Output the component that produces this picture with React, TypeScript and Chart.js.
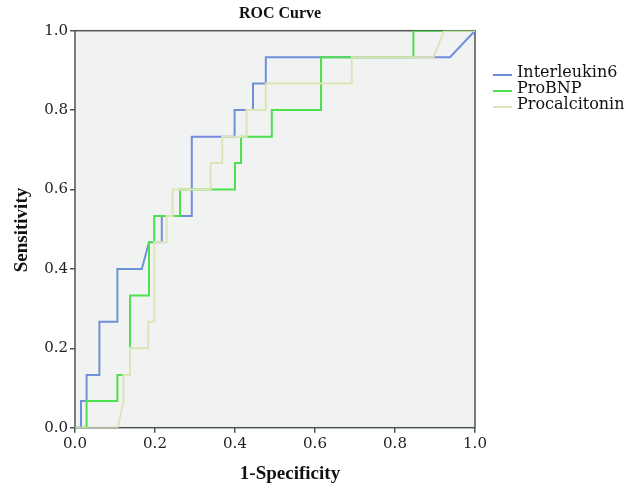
import React, { useEffect, useRef } from "react";
import { Chart, registerables } from "chart.js";

Chart.register(...registerables);

// Interleukin6
const il6X = [0, 0.015, 0.015, 0.029, 0.029, 0.061, 0.061, 0.106, 0.106, 0.167, 0.185, 0.217, 0.217, 0.292, 0.292, 0.399, 0.399, 0.445, 0.445, 0.477, 0.477, 0.9375, 1];
const il6Y = [0, 0, 0.067, 0.067, 0.133, 0.133, 0.267, 0.267, 0.4, 0.4, 0.467, 0.467, 0.533, 0.533, 0.733, 0.733, 0.8, 0.8, 0.867, 0.867, 0.933, 0.933, 1];

// ProBNP
const bnpX = [0, 0.029, 0.029, 0.106, 0.106, 0.1375, 0.1375, 0.185, 0.185, 0.198, 0.198, 0.2625, 0.2625, 0.4, 0.4, 0.415, 0.415, 0.492, 0.492, 0.615, 0.615, 0.846, 0.846, 1];
const bnpY = [0, 0, 0.067, 0.067, 0.133, 0.133, 0.333, 0.333, 0.467, 0.467, 0.533, 0.533, 0.6, 0.6, 0.667, 0.667, 0.733, 0.733, 0.8, 0.8, 0.933, 0.933, 1, 1];

// Procalcitonin
const pctX = [0, 0.107, 0.121, 0.121, 0.1375, 0.1375, 0.183, 0.183, 0.198, 0.198, 0.229, 0.229, 0.244, 0.244, 0.339, 0.339, 0.368, 0.368, 0.429, 0.429, 0.477, 0.477, 0.692, 0.692, 0.896, 0.923, 1];
const pctY = [0, 0, 0.067, 0.133, 0.133, 0.2, 0.2, 0.267, 0.267, 0.467, 0.467, 0.533, 0.533, 0.6, 0.6, 0.667, 0.667, 0.733, 0.733, 0.8, 0.8, 0.867, 0.867, 0.933, 0.933, 1, 1];

const seriesNames = ["Interleukin6", "ProBNP", "Procalcitonin"];
const seriesColors = ["#6f8fd8", "#4fe04f", "#dde5b8"];
const tickValues = [0, 0.2, 0.4, 0.6, 0.8, 1.0];

const FONT = "'DejaVu Serif', serif";
const TFONT = "'Liberation Serif', serif";

function pts(xs: number[], ys: number[]) {
  return xs.map((x, i) => ({ x, y: ys[i] }));
}

export default function App() {
  const ref = useRef<HTMLCanvasElement | null>(null);
  useEffect(() => {
    if (!ref.current) return;
    const deco = {
      id: "deco",
      beforeDatasetsDraw(chart: any) {
        const { ctx, chartArea: a } = chart;
        ctx.save();
        ctx.fillStyle = "#f1f3f3";
        ctx.fillRect(a.left, a.top, a.right - a.left, a.bottom - a.top);
        ctx.strokeStyle = "#4d5555";
        ctx.lineWidth = 1.5;
        ctx.strokeRect(a.left, a.top, a.right - a.left, a.bottom - a.top);
        ctx.restore();
      },
      afterDraw(chart: any) {
        const { ctx } = chart;
        ctx.save();
        ctx.fillStyle = "#111";
        ctx.textAlign = "center";
        ctx.textBaseline = "middle";
        ctx.font = `bold 16px ${TFONT}`;
        ctx.fillText("ROC Curve", 280, 14);
        ctx.font = `bold 19px ${TFONT}`;
        ctx.fillText("1-Specificity", 290, 474);
        ctx.translate(22, 230);
        ctx.rotate(-Math.PI / 2);
        ctx.fillText("Sensitivity", 0, 0);
        ctx.restore();
        ctx.save();
        ctx.font = `16px ${FONT}`;
        ctx.textAlign = "left";
        ctx.textBaseline = "middle";
        seriesNames.forEach((n, i) => {
          const y = 73 + i * 16;
          ctx.strokeStyle = seriesColors[i];
          ctx.lineWidth = 2;
          ctx.beginPath();
          ctx.moveTo(493, y + 2);
          ctx.lineTo(512, y + 2);
          ctx.stroke();
          ctx.fillStyle = "#111";
          ctx.fillText(n, 517, y);
        });
        ctx.restore();
      },
    };
    const mk = (i: number, xs: number[], ys: number[]) => ({
      label: seriesNames[i],
      data: pts(xs, ys),
      showLine: true,
      borderColor: seriesColors[i],
      backgroundColor: seriesColors[i],
      borderWidth: 2,
      pointRadius: 0,
      tension: 0,
      fill: false,
    });
    const chart = new Chart(ref.current, {
      type: "scatter",
      data: {
        datasets: [mk(2, pctX, pctY), mk(1, bnpX, bnpY), mk(0, il6X, il6Y)],
      },
      plugins: [deco],
      options: {
        animation: false,
        responsive: false,
        maintainAspectRatio: false,
        layout: { padding: { top: 30.7, right: 151, left: 0, bottom: 0 } },
        plugins: { legend: { display: false }, tooltip: { enabled: false }, title: { display: false } },
        scales: {
          x: {
            type: "linear",
            min: 0,
            max: 1,
            afterBuildTicks: (s: any) => { s.ticks = tickValues.map((v) => ({ value: v })); },
            afterFit: (s: any) => { s.height = 60.3; },
            ticks: { font: { family: FONT, size: 15 }, color: "#222", padding: 2, maxRotation: 0, callback: (v: any) => Number(v).toFixed(1) },
            grid: { drawOnChartArea: false, drawTicks: true, tickLength: 5, color: "#4d5555", lineWidth: 1.5 },
            border: { display: false },
          },
          y: {
            type: "linear",
            min: 0,
            max: 1,
            afterBuildTicks: (s: any) => { s.ticks = tickValues.map((v) => ({ value: v })); },
            afterFit: (s: any) => { s.width = 75; },
            ticks: { font: { family: FONT, size: 15 }, color: "#222", padding: 2, callback: (v: any) => Number(v).toFixed(1) },
            grid: { drawOnChartArea: false, drawTicks: true, tickLength: 5, color: "#4d5555", lineWidth: 1.5 },
            border: { display: false },
          },
        },
      } as any,
    });
    return () => chart.destroy();
  }, []);
  return (
    <div style={{ position: "fixed", left: 0, top: 0, width: 626, height: 488, background: "#fff" }}>
      <canvas ref={ref} width={626} height={488} style={{ width: 626, height: 488 }} />
    </div>
  );
}
